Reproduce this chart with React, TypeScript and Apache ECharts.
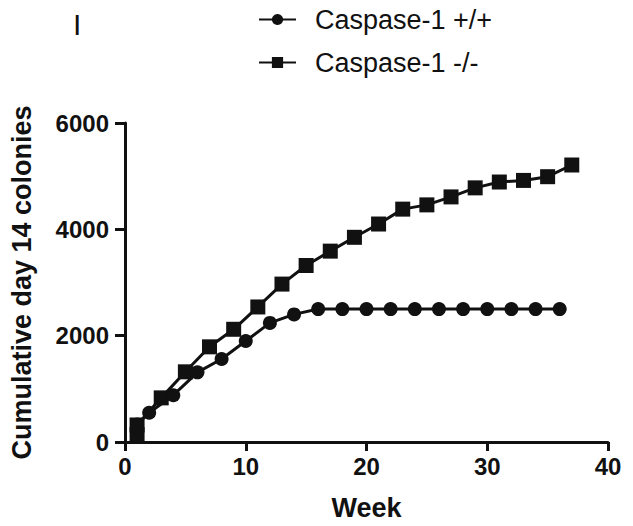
import React, { useEffect, useRef } from "react";
import * as echarts from "echarts";

const seriesNames = ["Caspase-1 +/+", "Caspase-1 -/-"];
const wtWeeks = [1, 2, 4, 6, 8, 10, 12, 14, 16, 18, 20, 22, 24, 26, 28, 30, 32, 34, 36];
const wtValues = [330, 550, 880, 1310, 1560, 1900, 2240, 2400, 2500, 2500, 2500, 2500, 2500, 2500, 2500, 2500, 2500, 2500, 2500];
const koWeeks = [1, 1, 3, 5, 7, 9, 11, 13, 15, 17, 19, 21, 23, 25, 27, 29, 31, 33, 35, 37];
const koValues = [140, 320, 830, 1320, 1790, 2120, 2540, 2970, 3320, 3590, 3850, 4100, 4380, 4460, 4610, 4780, 4890, 4920, 4990, 5210];
const xTicks = [0, 10, 20, 30, 40];
const yTicks = [0, 2000, 4000, 6000];

const FONT = "Arial, 'Liberation Sans', Helvetica, sans-serif";

export default function App() {
  const ref = useRef<HTMLDivElement>(null);
  useEffect(() => {
    if (!ref.current) return;
    const chart = echarts.init(ref.current, undefined, { renderer: "svg" });
    const wt = wtWeeks.map((w, i) => [w, wtValues[i]]);
    const ko = koWeeks.map((w, i) => [w, koValues[i]]);
    chart.setOption({
      animation: false,
      backgroundColor: "#fff",
      grid: { left: 117, right: 25, top: 123, bottom: 76, containLabel: false },
      legend: {
        orient: "vertical",
        left: 258,
        top: 5,
        padding: 0,
        itemWidth: 37,
        itemHeight: 14,
        itemGap: 14,
        data: seriesNames,
        textStyle: {
          fontFamily: FONT,
          fontSize: 27,
          color: "#111",
          lineHeight: 29,
          padding: [0, 0, 0, 14],
        },
      },
      graphic: [
        {
          type: "text",
          left: 73,
          top: 9,
          style: { text: "I", font: `normal 30px ${FONT}`, fill: "#111" },
        },
      ],
      xAxis: {
        type: "value",
        min: 0,
        max: 40,
        interval: 10,
        name: "Week",
        nameLocation: "middle",
        nameGap: 52,
        nameTextStyle: { fontFamily: FONT, fontSize: 27, fontWeight: "bold", color: "#111" },
        axisLine: { show: true, onZero: false, lineStyle: { color: "#111", width: 3 } },
        axisTick: { show: true, length: 9, lineStyle: { color: "#111", width: 3 } },
        axisLabel: {
          fontFamily: FONT,
          fontSize: 24,
          fontWeight: "bold",
          color: "#111",
          margin: 12,
          formatter: (v: number) => (xTicks.includes(v) ? String(v) : ""),
        },
        splitLine: { show: false },
      },
      yAxis: {
        type: "value",
        min: 0,
        max: 6000,
        interval: 2000,
        name: "Cumulative day 14 colonies",
        nameLocation: "middle",
        nameGap: 90,
        nameTextStyle: { fontFamily: FONT, fontSize: 27, fontWeight: "bold", color: "#111" },
        axisLine: { show: true, lineStyle: { color: "#111", width: 3 } },
        axisTick: { show: true, length: 10, lineStyle: { color: "#111", width: 3 } },
        axisLabel: {
          fontFamily: FONT,
          fontSize: 24,
          fontWeight: "bold",
          color: "#111",
          margin: 16,
          formatter: (v: number) => (yTicks.includes(v) ? String(v) : ""),
        },
        splitLine: { show: false },
      },
      series: [
        {
          name: seriesNames[0],
          type: "line",
          data: wt,
          symbol: "circle",
          symbolSize: 14,
          showAllSymbol: true,
          lineStyle: { color: "#111", width: 3 },
          itemStyle: { color: "#111" },
          z: 3,
        },
        {
          name: seriesNames[1],
          type: "line",
          data: ko,
          symbol: "rect",
          symbolSize: 15,
          showAllSymbol: true,
          lineStyle: { color: "#111", width: 3 },
          itemStyle: { color: "#111" },
          z: 2,
        },
      ],
    });
    return () => chart.dispose();
  }, []);
  return <div ref={ref} style={{ width: 633, height: 526, position: "absolute", left: 0, top: 0 }} />;
}
